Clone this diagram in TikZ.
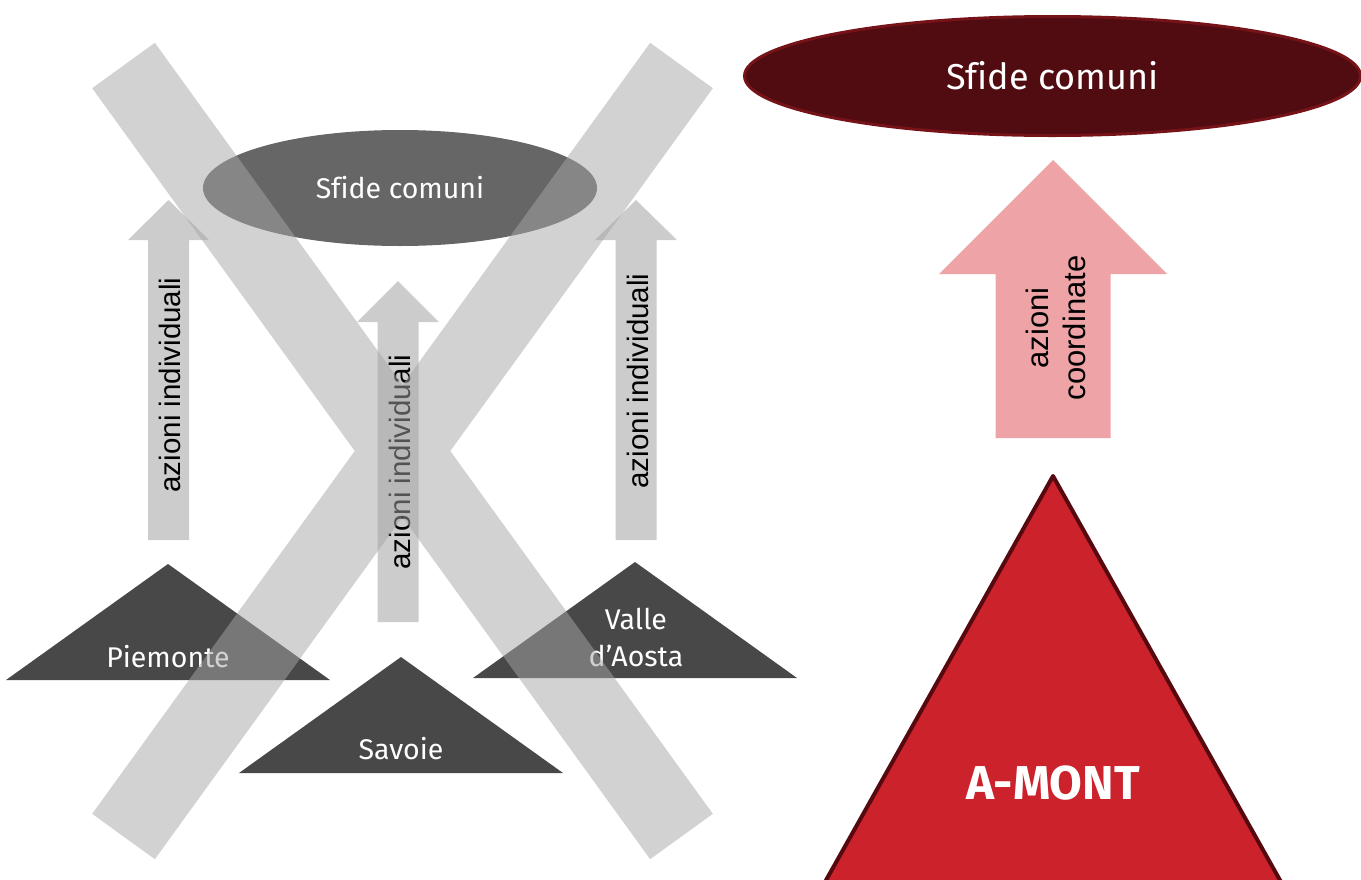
\documentclass[tikz,border=0pt]{standalone}
\usepackage{fontspec}
\setmainfont{Liberation Sans}
\newfontfamily\condfont[Ligatures=NoCommon]{Fira Sans}
\usetikzlibrary{shapes.geometric}
\definecolor{xgray}{HTML}{A6A6A6}
\definecolor{arrgray}{HTML}{CCCCCC}
\definecolor{ellgray}{HTML}{666666}
\definecolor{trigray}{HTML}{484848}
\definecolor{maroon}{HTML}{500C11}
\definecolor{maroonedge}{HTML}{751319}
\definecolor{pinkarr}{HTML}{EEA3A6}
\definecolor{amred}{HTML}{CC222B}
\definecolor{amedge}{HTML}{560A0F}
\tikzset{
  whitelab/.style={text=white, font=\condfont\fontsize{28.5}{37}\selectfont, align=center, inner sep=0pt},
  rotlab/.style={rotate=90, text=black, font=\fontsize{29.5}{35}\selectfont, inner sep=0pt, align=center},
  grayarrow/.style={fill=arrgray},
  region/.style={fill=trigray},
  xband/.style={fill=xgray, fill opacity=0.5}
}
\begin{document}
\begin{tikzpicture}[x=1pt,y=-1pt]
\useasboundingbox (0,0) rectangle (1361,879);
% ---- left part ----
\node[ellipse, fill=ellgray, minimum width=394pt, minimum height=116pt, inner sep=0pt, whitelab] (sfideA) at (400,188) {Sfide comuni};
% gray arrows
\fill[grayarrow] (148,540) -- (148,240) -- (128,240) -- (168.5,200) -- (209,240) -- (189,240) -- (189,540) -- cycle;
\fill[grayarrow] (377.5,622) -- (377.5,322) -- (357,322) -- (398,281) -- (439,322) -- (418.5,322) -- (418.5,622) -- cycle;
\fill[grayarrow] (615.5,540) -- (615.5,240) -- (595,240) -- (636,200) -- (677,240) -- (656.5,240) -- (656.5,540) -- cycle;
\node[rotlab] (azL) at (170,385) {azioni individuali};
\node[rotlab] (azM) at (400,462) {azioni individuali};
\node[rotlab] (azR) at (638,381) {azioni individuali};
% regions
\fill[region] (6,680) -- (168,564) -- (330,680) -- cycle;
\fill[region] (239,773) -- (401,657) -- (563,773) -- cycle;
\fill[region] (473,678) -- (635,562) -- (797,678) -- cycle;
\node[whitelab] (piem) at (168,657) {Piemonte};
\node[whitelab] (savo) at (401,749) {Savoie};
\node[whitelab] (valle) at (636,637) {Valle\\d’Aosta};
% the cross
\fill[xband] (154.85,42.8) -- (92.15,88.2) -- (650.15,859.2) -- (712.85,813.8) -- cycle
             (650.15,42.8) -- (92.15,813.8) -- (154.85,859.2) -- (712.85,88.2) -- cycle;
% ---- right part ----
\node[ellipse, fill=maroon, draw=maroonedge, line width=3pt, minimum width=616pt, minimum height=119pt, inner sep=0pt, whitelab, font=\condfont\fontsize{36}{40}\selectfont] (sfideB) at (1052.5,76) {Sfide comuni};
\fill[pinkarr] (995.5,438) -- (995.5,274) -- (939,274) -- (1053,160) -- (1167,274) -- (1110.5,274) -- (1110.5,438) -- cycle;
\node[rotlab, font=\fontsize{31}{37}\selectfont] (azC) at (1056,328) {azioni\\coordinate};
\filldraw[fill=amred, draw=amedge, line width=4pt, line join=round] (825,882) -- (1053,476) -- (1281,882) -- cycle;
\node[whitelab, font=\condfont\bfseries\fontsize{47.5}{52}\selectfont] (amont) at (1053,783) {A-MONT};
\end{tikzpicture}
\end{document}
